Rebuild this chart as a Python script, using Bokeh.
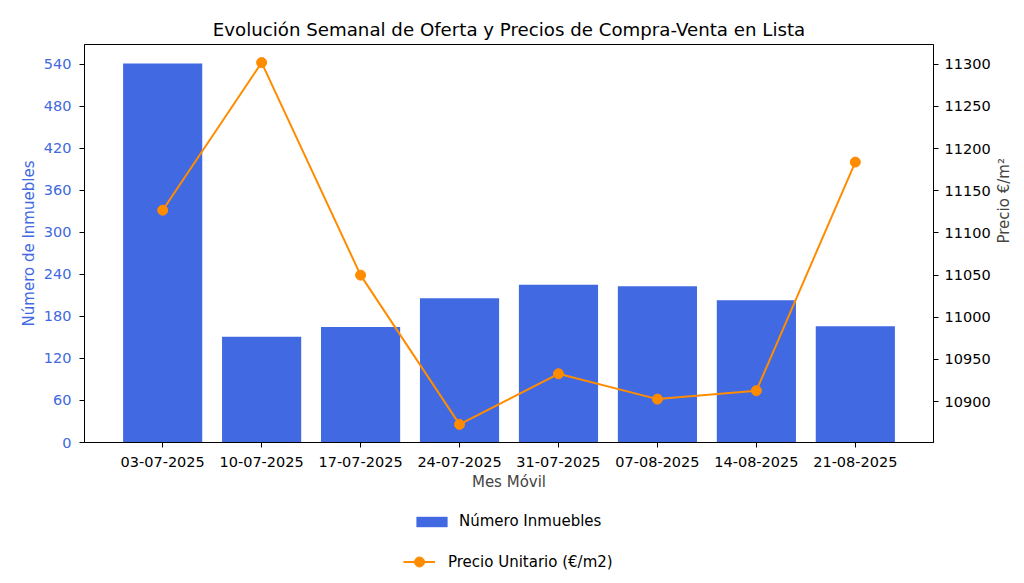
import math
from bokeh.plotting import figure
from bokeh.layouts import column
from bokeh.models import (Range1d, LinearAxis, SingleIntervalTicker, FixedTicker,
                          Legend, LegendItem)
from bokeh.embed import file_html
from bokeh.resources import INLINE

# ---- data ----
weeks = ["03-07-2025", "10-07-2025", "17-07-2025", "24-07-2025",
         "31-07-2025", "07-08-2025", "14-08-2025", "21-08-2025"]
num_inmuebles = [541, 151, 165, 206, 225, 223, 203, 166]
precio_m2 = [11127, 11302, 11050, 10873, 10933, 10903, 10913, 11184]

FONT = "DejaVu Sans"
BLUE = "#4169E1"
ORANGE = "#FF8C00"

idx = list(range(len(weeks)))

p_lo, p_hi = min(precio_m2), max(precio_m2)
pad = (p_hi - p_lo) * 0.05

p = figure(width=1024, height=500, output_backend="svg", toolbar_location=None,
           x_range=Range1d(-0.79, len(weeks) - 1 + 0.79),
           y_range=Range1d(0, max(num_inmuebles) * 1.05),
           min_border_left=84, min_border_right=89,
           min_border_top=44, min_border_bottom=58)

p.title.text = "Evolución Semanal de Oferta y Precios de Compra-Venta en Lista"
p.title.align = "center"
p.title.text_font = FONT
p.title.text_font_size = "18.2px"
p.title.text_font_style = "normal"
p.title.text_color = "#000000"
p.title.standoff = 10

p.xgrid.visible = False
p.ygrid.visible = False
p.outline_line_color = "#000000"
p.outline_line_width = 1
p.background_fill_color = "white"

p.extra_y_ranges = {"price": Range1d(p_lo - pad, p_hi + pad)}

bars = p.vbar(x=idx, top=num_inmuebles, width=0.8, color=BLUE, line_color=None)
line = p.line(x=idx, y=precio_m2, y_range_name="price", color=ORANGE, line_width=2)
pts = p.scatter(x=idx, y=precio_m2, y_range_name="price", color=ORANGE, size=10)

# x axis
xa = p.xaxis[0]
xa.ticker = FixedTicker(ticks=idx)
xa.major_label_overrides = {i: w for i, w in enumerate(weeks)}
xa.axis_label = "Mes Móvil"

# left axis
ya = p.yaxis[0]
ya.ticker = SingleIntervalTicker(interval=60)
ya.axis_label = "Número de Inmuebles"
ya.axis_label_text_color = BLUE
ya.major_label_text_color = BLUE

# right axis
ra = LinearAxis(y_range_name="price", ticker=SingleIntervalTicker(interval=50),
                axis_label="Precio €/m²")
p.add_layout(ra, "right")

for ax in [xa, ya, ra]:
    ax.axis_line_color = "#000000"
    ax.major_tick_line_color = "#000000"
    ax.major_tick_out = 5
    ax.major_tick_in = 0
    ax.minor_tick_line_color = None
    ax.major_label_text_font = FONT
    ax.major_label_text_font_size = "14.5px"
    ax.axis_label_text_font = FONT
    ax.axis_label_text_font_size = "15px"
    ax.axis_label_text_font_style = "normal"
ra.major_label_text_color = "#000000"
xa.major_label_text_color = "#000000"
ra.major_label_orientation = "horizontal"
xa.major_label_standoff = 9
xa.axis_label_standoff = 3
ya.major_label_standoff = 8
ya.axis_label_standoff = 3
ra.major_label_standoff = 6
ra.axis_label_standoff = 10
try:
    ra.axis_label_orientation = math.pi / 2
except Exception:
    pass

# ---- legend panel below the chart ----
lf = figure(width=1024, height=80, output_backend="svg", toolbar_location=None,
            x_range=Range1d(0, 1), y_range=Range1d(0, 1),
            min_border=0, min_border_left=0, min_border_right=0,
            min_border_top=0, min_border_bottom=0)
for ax in lf.axis:
    ax.visible = False
    ax.axis_line_color = None
    ax.major_tick_line_color = None
    ax.minor_tick_line_color = None
for g in lf.grid:
    g.visible = False
    g.grid_line_color = None
lf.outline_line_color = None
lf.background_fill_color = "white"
lf.border_fill_color = "white"

# legend proxies (kept fully outside the visible area of this legend-only panel)
lbar = lf.vbar(x=[-10], bottom=[-6], top=[-5], width=0.8, color=BLUE, line_color=None)
lline = lf.line(x=[-10, -9], y=[-5, -5], color=ORANGE, line_width=2)
lpts = lf.scatter(x=[-10], y=[-5], color=ORANGE, size=10)

def make_legend(items, loc, gw, gh, standoff):
    lg = Legend(items=items, location=loc, orientation="vertical")
    lg.border_line_color = None
    lg.background_fill_alpha = 0
    lg.label_text_font = FONT
    lg.label_text_font_size = "15px"
    lg.label_text_color = "#000000"
    lg.glyph_width = gw
    lg.glyph_height = gh
    lg.label_standoff = standoff
    lg.padding = 0
    lg.margin = 0
    return lg

lg1 = make_legend([LegendItem(label="Número Inmuebles", renderers=[lbar])],
                  (328, 50), 39, 13, 8)
lg2 = make_legend([LegendItem(label="Precio Unitario (€/m2)", renderers=[lline, lpts])],
                  (319, 6), 32, 25, 13)
lf.add_layout(lg1)
lf.add_layout(lg2)

layout = column(p, lf, spacing=0)
open("out.html", "w").write(file_html(layout, INLINE))
